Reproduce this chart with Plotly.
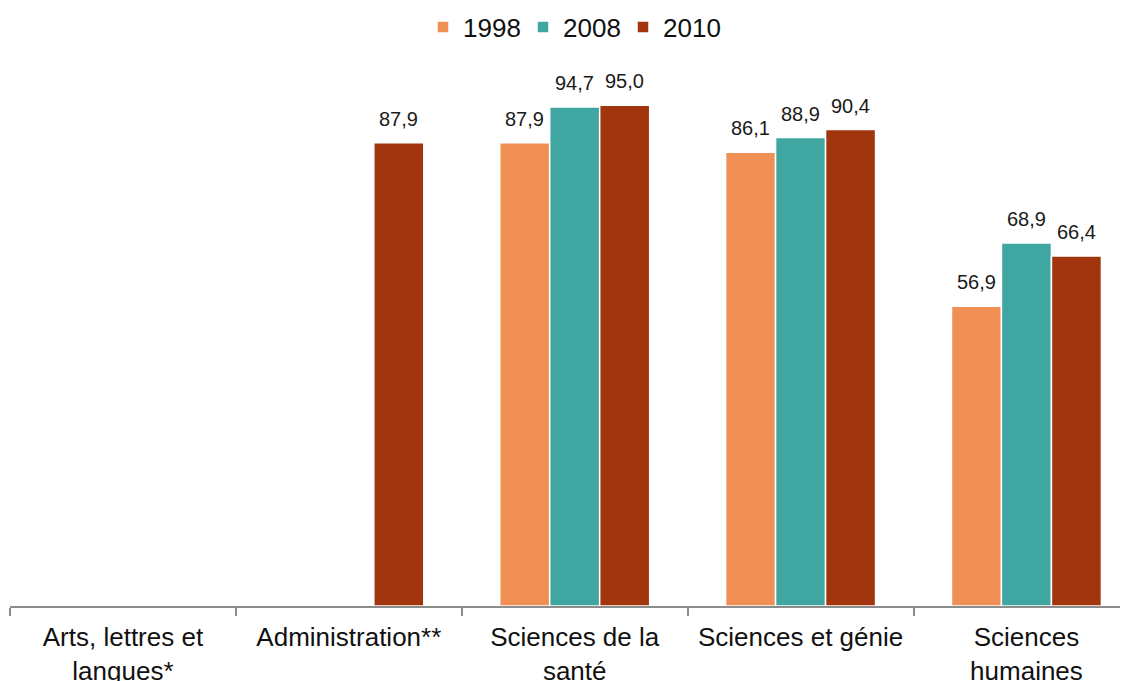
import plotly.graph_objects as go

categories = ["Arts, lettres et<br>langues*", "Administration**", "Sciences de la<br>santé",
              "Sciences et génie", "Sciences<br>humaines"]
years = ["1998", "2008", "2010"]
v1998 = [None, None, 87.9, 86.1, 56.9]
v2008 = [None, None, 94.7, 88.9, 68.9]
v2010 = [None, 87.9, 95.0, 90.4, 66.4]
colors = ["#F09055", "#40A6A1", "#A0350E"]

BARGAP = 0.336

def fmt(v):
    return f"{v:.1f}".replace(".", ",")

fig = go.Figure()
series = [v1998, v2008, v2010]
for name, vals, col in zip(years, series, colors):
    fig.add_trace(go.Bar(
        name=name, x=categories, y=vals,
        marker=dict(color=col, line=dict(color="white", width=1.5)),
    ))

# value labels, placed through the axes' own scales above each bar
w = (1 - BARGAP) / len(series)
for j, vals in enumerate(series):
    for i, v in enumerate(vals):
        if v is None:
            continue
        fig.add_annotation(
            x=i + (j - (len(series) - 1) / 2) * w, y=v, xref="x", yref="y",
            text=fmt(v), showarrow=False, yanchor="bottom", yshift=11,
            font=dict(size=20, color="#1a1a1a", family="Liberation Sans, Arial"),
        )

fig.update_layout(
    width=1128, height=681,
    margin=dict(l=2, r=0, t=71, b=83, autoexpand=False),
    paper_bgcolor="white", plot_bgcolor="white",
    barmode="group", bargap=BARGAP, bargroupgap=0,
    font=dict(family="Liberation Sans, Arial", color="#111111"),
    legend=dict(orientation="h", x=0.5, xanchor="center", yref="container",
                y=0.972, yanchor="middle", entrywidth=55, entrywidthmode="pixels",
                font=dict(size=26), itemwidth=30, traceorder="normal"),
    showlegend=True,
)
fig.update_xaxes(
    range=[-0.5, 4.485], showline=True, linecolor="#8c8c8c", linewidth=1.5,
    ticks="outside", tickson="boundaries", ticklen=8, tickcolor="#8c8c8c", tickwidth=1.5,
    tickfont=dict(size=26, color="#111111"), showgrid=False, ticklabelstandoff=7,
)
fig.update_yaxes(range=[0, 100], visible=False, showgrid=False)

fig.write_html("out.html")
